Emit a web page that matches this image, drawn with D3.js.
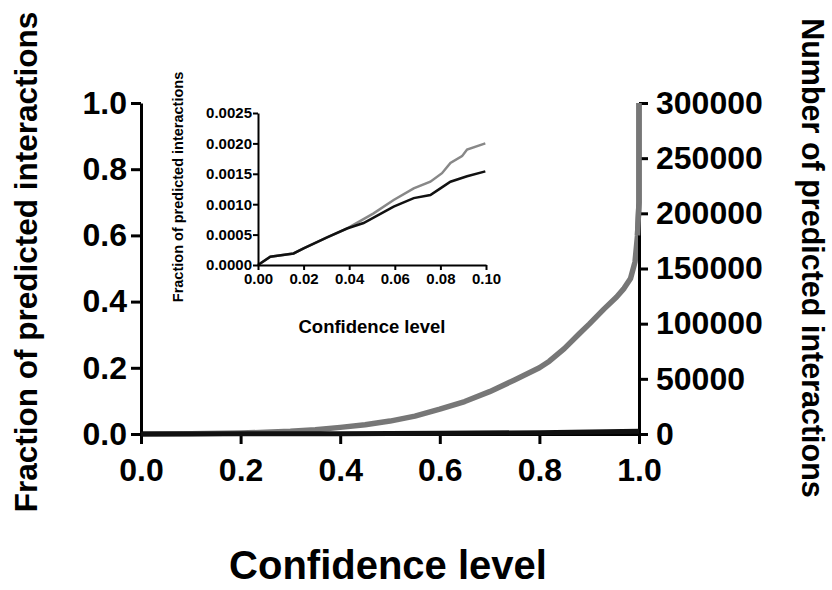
<!DOCTYPE html>
<html>
<head>
<meta charset="utf-8">
<script src="https://cdn.jsdelivr.net/npm/d3@7"></script>
<style>
  body { margin: 0; background: #fff; }
  svg { display: block; font-family: "Liberation Sans", Arial, sans-serif; font-weight: bold; }
  .axis path, .axis line { stroke: #000; }
  .axis text { fill: #000; font-weight: bold; }
</style>
</head>
<body>
<div id="chart"></div>
<script>
// main chart: fraction of predicted interactions vs confidence level
var mainConf = [0, 0.1, 0.2, 0.25, 0.3, 0.35, 0.4, 0.45, 0.5, 0.55, 0.6, 0.65, 0.7, 0.75, 0.8, 0.82, 0.85, 0.88, 0.9, 0.93, 0.955, 0.97, 0.983, 0.992, 0.997, 1.0, 1.0];
var mainGray = [0, 0.001, 0.003, 0.005, 0.008, 0.013, 0.02, 0.028, 0.039, 0.054, 0.075, 0.098, 0.128, 0.163, 0.2, 0.22, 0.258, 0.303, 0.332, 0.378, 0.414, 0.44, 0.47, 0.52, 0.6, 0.7, 1.0];
var blackConf = [0, 0.2, 0.4, 0.6, 0.8, 0.9, 1.0];
var mainBlack = [0, 0.0005, 0.001, 0.002, 0.004, 0.006, 0.008];

// inset: zoom on 0..0.1
var insetGrayConf = [0, 0.0054, 0.0156, 0.02, 0.0303, 0.039, 0.0405, 0.0507, 0.0595, 0.0683, 0.0756, 0.0807, 0.0844, 0.0895, 0.0917, 0.0997];
var insetGray = [0, 0.000137, 0.00019, 0.000275, 0.000456, 0.0006, 0.00063, 0.00085, 0.00107, 0.00126, 0.00137, 0.00151, 0.00168, 0.00179, 0.0019, 0.002];
var insetBlackConf = [0, 0.0054, 0.0156, 0.02, 0.0303, 0.039, 0.0463, 0.0595, 0.0683, 0.0756, 0.08, 0.0844, 0.0917, 0.0997];
var insetBlack = [0, 0.000137, 0.00019, 0.000275, 0.000456, 0.0006, 0.00069, 0.00096, 0.0011, 0.00115, 0.00126, 0.00137, 0.00146, 0.00154];

var xTicks = [0, 0.2, 0.4, 0.6, 0.8, 1.0];
var yTicks = [0, 0.2, 0.4, 0.6, 0.8, 1.0];
var countTicks = [0, 50000, 100000, 150000, 200000, 250000, 300000];
var insetXTicks = [0, 0.02, 0.04, 0.06, 0.08, 0.10];
var insetYTicks = [0, 0.0005, 0.001, 0.0015, 0.002, 0.0025];

var W = 832, H = 590;
var svg = d3.select('#chart').append('svg')
    .attr('width', W)
    .attr('height', H);
svg.append('rect').attr('width', W).attr('height', H).attr('fill', '#fff');

// scales
var x = d3.scaleLinear().domain([0, 1]).range([141, 639]);
var y = d3.scaleLinear().domain([0, 1]).range([434, 103]);
var yCount = d3.scaleLinear().domain([0, 300000]).range([434, 103]);

var ix = d3.scaleLinear().domain([0, 0.1]).range([258, 486]);
var iy = d3.scaleLinear().domain([0, 0.0025]).range([265, 113]);

var zip = function (xs, ys) {
    return xs.map(function (d, i) { return [d, ys[i]]; });
};

// main lines
var line = d3.line().x(function (d) { return x(d[0]); }).y(function (d) { return y(d[1]); });

svg.append('path')
    .datum(zip(mainConf, mainGray))
    .attr('d', line)
    .attr('fill', 'none')
    .attr('stroke', '#777')
    .attr('stroke-width', 5.5)
    .attr('stroke-linejoin', 'round');

// main axes
var gx = svg.append('g').attr('class', 'axis')
    .attr('transform', 'translate(0,' + y(0) + ')')
    .call(d3.axisBottom(x).tickValues(xTicks).tickFormat(d3.format('.1f')).tickSize(10).tickSizeOuter(0).tickPadding(14));
var gy = svg.append('g').attr('class', 'axis')
    .attr('transform', 'translate(' + x(0) + ',0)')
    .call(d3.axisLeft(y).tickValues(yTicks).tickFormat(d3.format('.1f')).tickSize(10).tickSizeOuter(0).tickPadding(4));
var gr = svg.append('g').attr('class', 'axis')
    .attr('transform', 'translate(' + x(1) + ',0)')
    .call(d3.axisRight(yCount).tickValues(countTicks).tickFormat(d3.format('d')).tickSize(9).tickSizeOuter(0).tickPadding(8));

[gx, gy, gr].forEach(function (g) {
    g.selectAll('path, line').attr('stroke-width', 3);
    g.selectAll('text').style('font-size', '32px');
});

// vertical part of the gray curve sits over the right axis
svg.append('path')
    .datum(zip(mainConf.slice(-3), mainGray.slice(-3)))
    .attr('d', line)
    .attr('fill', 'none')
    .attr('stroke', '#777')
    .attr('stroke-width', 5.5);

svg.append('path')
    .datum(zip(blackConf, mainBlack))
    .attr('d', line)
    .attr('fill', 'none')
    .attr('stroke', '#111')
    .attr('stroke-width', 5);

// main titles
svg.append('text')
    .attr('transform', 'translate(37,262) rotate(-90)')
    .attr('text-anchor', 'middle')
    .style('font-size', '31.5px')
    .text('Fraction of predicted interactions');
svg.append('text')
    .attr('transform', 'translate(802,258) rotate(90)')
    .attr('text-anchor', 'middle')
    .style('font-size', '30.5px')
    .text('Number of predicted interactions');
svg.append('text')
    .attr('x', 388)
    .attr('y', 579)
    .attr('text-anchor', 'middle')
    .style('font-size', '40px')
    .text('Confidence level');

// inset
var iline = d3.line().x(function (d) { return ix(d[0]); }).y(function (d) { return iy(d[1]); });

svg.append('path')
    .datum(zip(insetGrayConf, insetGray))
    .attr('d', iline)
    .attr('fill', 'none')
    .attr('stroke', '#888')
    .attr('stroke-width', 2.5);
svg.append('path')
    .datum(zip(insetBlackConf, insetBlack))
    .attr('d', iline)
    .attr('fill', 'none')
    .attr('stroke', '#111')
    .attr('stroke-width', 2.5);

var igx = svg.append('g').attr('class', 'axis')
    .attr('transform', 'translate(0,' + iy(0) + ')')
    .call(d3.axisBottom(ix).tickValues(insetXTicks).tickFormat(d3.format('.2f')).tickSize(5).tickSizeOuter(0).tickPadding(3));
var igy = svg.append('g').attr('class', 'axis')
    .attr('transform', 'translate(' + ix(0) + ',0)')
    .call(d3.axisLeft(iy).tickValues(insetYTicks).tickFormat(d3.format('.4f')).tickSize(5).tickSizeOuter(0).tickPadding(1));
[igx, igy].forEach(function (g) {
    g.selectAll('path, line').attr('stroke-width', 2);
    g.selectAll('text').style('font-size', '15px');
});

svg.append('text')
    .attr('transform', 'translate(183,187) rotate(-90)')
    .attr('text-anchor', 'middle')
    .style('font-size', '14.5px')
    .text('Fraction of predicted interactions');
svg.append('text')
    .attr('x', 372)
    .attr('y', 333)
    .attr('text-anchor', 'middle')
    .style('font-size', '18.5px')
    .text('Confidence level');
</script>
</body>
</html>
